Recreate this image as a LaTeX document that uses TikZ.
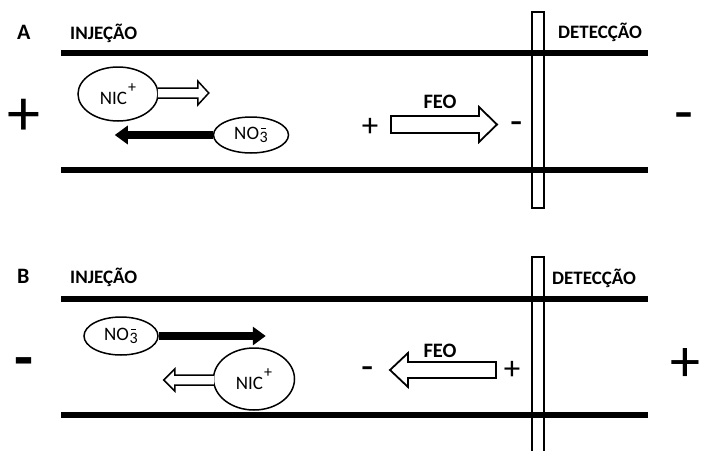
\documentclass[tikz,border=0pt]{standalone}
\usepackage{fontspec}
\setmainfont{Carlito}
\usetikzlibrary{shapes.geometric,arrows.meta}

% nitrate ion: NO with a lowered 3 carrying a short bar
\newcommand{\nitrateion}{NO\kern0.6pt{\fontsize{16}{16}\selectfont\raisebox{-2.5pt}{3}\llap{\makebox[0.507em]{\rule[10.6pt]{4.5pt}{1.1pt}}}}}
% nicotine cation: NIC with a raised plus
\newcommand{\nicion}{NIC\kern1pt{\fontsize{16}{16}\selectfont\raisebox{12pt}{+}}}

\begin{document}
\begin{tikzpicture}[x=1pt,y=-1pt,
  tube/.style={line width=5.5pt},
  detector/.style={draw,line width=1.8pt},
  ion/.style={draw,fill=white,ellipse,line width=1.5pt,inner sep=0pt,
    font=\fontsize{19}{22}\selectfont},
  hollow/.style={draw,fill=white,line width=1.5pt,line join=miter},
  solidarrow/.style={line width=8pt,-{Triangle[length=13pt,width=18pt]}},
  feo/.style={draw,fill=white,line width=1.8pt,line join=miter},
  label/.style={inner sep=0pt,anchor=base west,font=\fontsize{19}{22}\selectfont\bfseries},
  tag/.style={label,font=\fontsize{22}{24}\selectfont\bfseries},
  feolabel/.style={inner sep=0pt,anchor=base,font=\fontsize{20.5}{24}\selectfont\bfseries},
  bigsign/.style={inner sep=0pt,anchor=base,font=\fontsize{62}{62}\selectfont},
  smallsign/.style={inner sep=0pt,anchor=base,font=\fontsize{33}{33}\selectfont},
  smalldash/.style={inner sep=0pt,anchor=base,font=\fontsize{40}{40}\selectfont}]

\clip (0,0) rectangle (704,450);
\fill[white] (0,0) rectangle (704,450);

%% ---------------- Panel A ----------------
\node[tag] (tagA) at (17,39) {A};
\node[label] (injA) at (70,39) {INJEÇÃO};
\node[label] (detA) at (558,38) {DETECÇÃO};

\draw[tube] (61,53) -- (648,53);
\draw[tube] (61,170) -- (648,170);
\draw[detector] (532,12) rectangle (544,208);

\node[bigsign,font=\fontsize{66}{66}\selectfont] (posA) at (24,135) {+};
\node[bigsign] (negA) at (684,132.6) {-};

\node[ion,minimum width=80pt,minimum height=54pt] (nicA) at (118,94) {\nicion};
\node[ion,minimum width=75pt,minimum height=36pt] (no3A) at (251,135) {\nitrateion};

\draw[hollow] (nicA.east) ++(-1,-6) -- ++(40,0) -- ++(0,-7) -- ++(11,12)
  -- ++(-11,12) -- ++(0,-7) -- ++(-40,0);
\draw[solidarrow] (no3A.west) -- ++(-98,0) coordinate (no3Atip);

\draw[feo] (391,116) -- (479,116) -- (479,107) -- (497,124.5) -- (479,142)
  -- (479,133) -- (391,133) -- cycle;
\node[feolabel] (feoA) at (440,108.5) {FEO};
\node[smallsign] (feoApos) at (370,136) {+};
\node[smalldash] (feoAneg) at (517,134.5) {-};

%% ---------------- Panel B ----------------
\node[tag] (tagB) at (17,283) {B};
\node[label] (injB) at (70,283) {INJEÇÃO};
\node[label] (detB) at (552,284) {DETECÇÃO};

\draw[tube] (61,299) -- (648,299);
\draw[tube] (61,415) -- (648,415);
\draw[detector] (532,257) rectangle (544,460);

\node[bigsign,font=\fontsize{62}{62}\selectfont\bfseries] (negB) at (24,378.6) {-};
\node[bigsign,font=\fontsize{60}{60}\selectfont] (posB) at (685,381.8) {+};

\node[ion,minimum width=74pt,minimum height=38pt] (no3B) at (121,336) {\nitrateion};
\node[ion,minimum width=81pt,minimum height=62pt] (nicB) at (254,379) {\nicion};

\draw[solidarrow] (no3B.east) -- ++(107,0) coordinate (no3Btip);
\draw[hollow] (nicB.west) ++(1,-4) -- ++(-39,0) -- ++(0,-6) -- ++(-11,11)
  -- ++(11,11) -- ++(0,-6) -- ++(39,0);

\draw[feo] (496,362) -- (408,362) -- (408,353) -- (390,370) -- (408,387)
  -- (408,378) -- (496,378) -- cycle;
\node[feolabel] (feoB) at (440,357.5) {FEO};
\node[smalldash] (feoBneg) at (368,379.5) {-};
\node[smallsign] (feoBpos) at (512,379) {+};

\end{tikzpicture}
\end{document}
